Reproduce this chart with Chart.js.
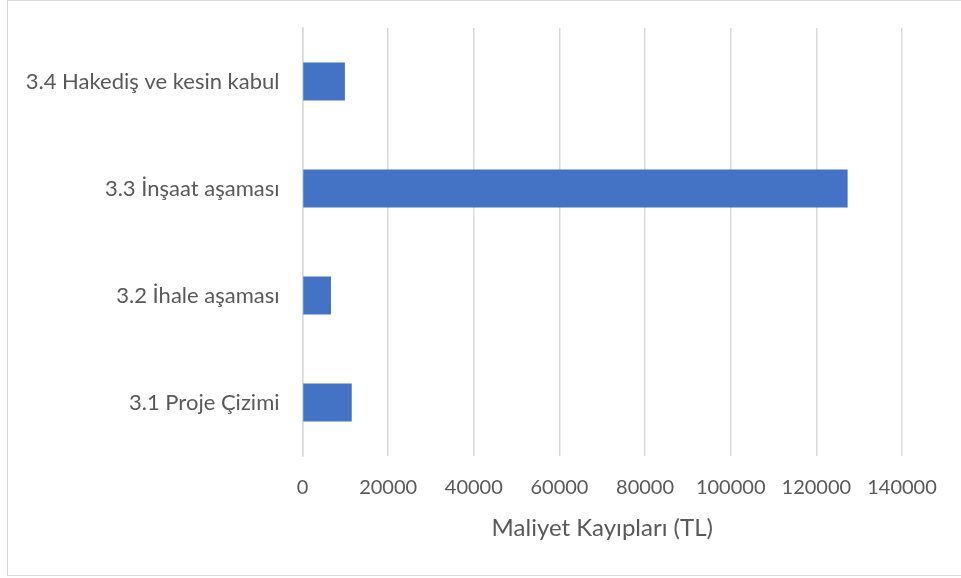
<!DOCTYPE html>
<html>
<head>
<meta charset="utf-8">
<script src="https://cdn.jsdelivr.net/npm/chart.js@4"></script>
<style>
  html, body { margin: 0; padding: 0; background: #fff; }
  #wrap { position: relative; width: 961px; height: 578px; overflow: hidden; }
  #frame { position: absolute; left: 7px; top: 0px; width: 970px; height: 576px;
           border: 1.5px solid #d9d9d9; box-sizing: border-box; }
  canvas { position: absolute; left: 0; top: 0; }
</style>
</head>
<body>
<div id="wrap">
  <div id="frame"></div>
  <canvas id="chartLoss" width="961" height="578"></canvas>
</div>
<script>
// kategoriler (Excel sirasi, alttan uste)
const categories = ['3.1 Proje Çizimi', '3.2 İhale aşaması', '3.3 İnşaat aşaması', '3.4 Hakediş ve kesin kabul'];
const lossValues = [11500, 6650, 127300, 9900];
const xTicks = [0, 20000, 40000, 60000, 80000, 100000, 120000, 140000];
const xTitle = 'Maliyet Kayıpları (TL)';

const fontFam = 'Lato, "Open Sans", sans-serif';
const textColor = '#595959';

let myChart = new Chart(document.getElementById('chartLoss'), {
    type: 'bar',
    data: {
        labels: categories,
        datasets: [{
            label: xTitle,
            data: lossValues,
            backgroundColor: '#4472C4',
            borderWidth: 0,
            categoryPercentage: 1,
            barPercentage: 0.355,
        }]
    },
    options: {
        indexAxis: 'y',
        responsive: false,
        animation: false,
        layout: { padding: { left: 0, right: 59, top: 28, bottom: 35 } },
        scales: {
            x: {
                min: xTicks[0],
                max: xTicks[xTicks.length - 1],
                afterBuildTicks: function(scale){
                    scale.ticks = xTicks.map(v => ({ value: v }));
                },
                grid: { color: '#d9d9d9', lineWidth: 1.5, drawTicks: false },
                border: { display: false },
                ticks: {
                    color: textColor,
                    font: { family: fontFam, size: 20 },
                    padding: 20,
                    maxRotation: 0,
                    callback: function(v){ return String(v); },
                },
                title: {
                    display: true,
                    text: xTitle,
                    color: textColor,
                    font: { family: fontFam, size: 24 },
                    padding: { top: 12, bottom: 0 },
                },
                afterFit: function(scale){ scale.height = 87; },
            },
            y: {
                reverse: true,
                grid: { display: false, drawTicks: false },
                border: { display: true, color: '#d9d9d9', width: 1.5 },
                ticks: {
                    color: textColor,
                    font: { family: fontFam, size: 22 },
                    padding: 23,
                },
                afterFit: function(scale){
                    scale.width = 302.5;
                    scale.paddingTop = 0;
                    scale.paddingBottom = 0;
                },
            },
        },
        plugins: {
            legend: { display: false },
            tooltip: { enabled: false },
        },
    },
});
</script>
</body>
</html>
